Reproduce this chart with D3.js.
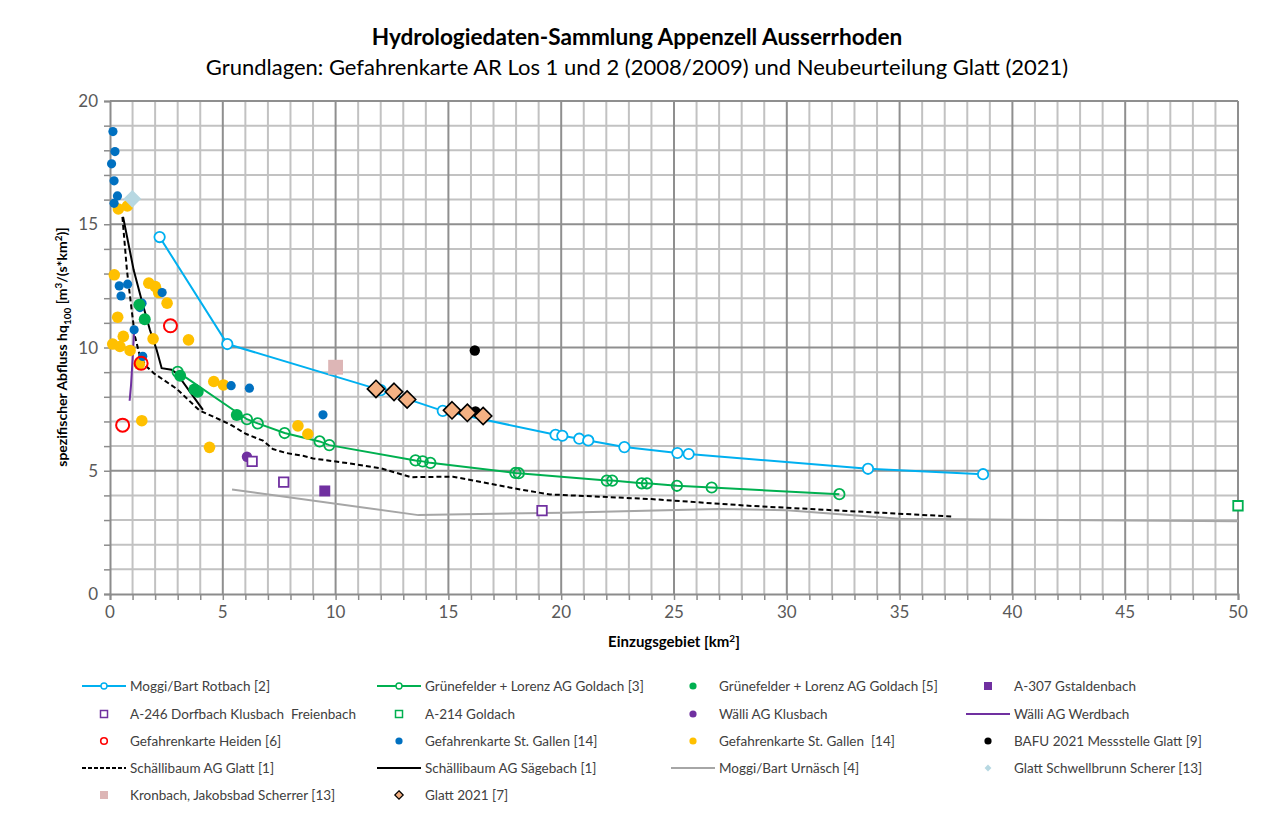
<!DOCTYPE html>
<html>
<head>
<meta charset="utf-8">
<style>
  body { margin: 0; background-color: white; }
  svg { font-family: 'Lato', sans-serif; }
  .minor line { stroke: #c2c2c2; stroke-width: 2px; }
  .major line { stroke: #8f8f8f; stroke-width: 2px; }
  .tick-label { fill: #595959; font-size: 17px; }
  .legend text { fill: #404040; font-size: 13.5px; }
</style>
</head>
<body>

<!-- Load d3.js -->
<script src="https://d3js.org/d3.v7.min.js"></script>

<div id="my_dataviz"></div>

<script>

// ---- data ----
var xTicks = [0, 5, 10, 15, 20, 25, 30, 35, 40, 45, 50];
var yTicks = [0, 5, 10, 15, 20];

// Moggi/Bart Rotbach [2]
var rotbachX = [2.2, 5.2, 12.0, 14.75, 19.75, 20.05, 20.8, 21.2, 22.8, 25.15, 25.65, 33.6, 38.7];
var rotbachY = [14.48, 10.14, 8.27, 7.43, 6.46, 6.42, 6.3, 6.23, 5.96, 5.72, 5.68, 5.08, 4.86];

// Grünefelder + Lorenz AG Goldach [3]
var goldach3X = [3.0, 6.07, 6.55, 7.74, 9.29, 9.72, 13.54, 13.86, 14.2, 17.97, 18.12, 22.02, 22.26, 23.57, 23.8, 25.13, 26.67, 32.33];
var goldach3Y = [9.01, 7.09, 6.92, 6.53, 6.19, 6.04, 5.42, 5.38, 5.32, 4.91, 4.9, 4.6, 4.6, 4.49, 4.49, 4.39, 4.32, 4.05];

// Grünefelder + Lorenz AG Goldach [5]
var goldach5X = [1.3, 1.54, 3.11, 3.74, 3.89, 5.62];
var goldach5Y = [11.73, 11.15, 8.85, 8.3, 8.2, 7.26];

// A-307 Gstaldenbach
var gstaldenX = [9.52];
var gstaldenY = [4.18];

// A-246 Dorfbach Klusbach Freienbach
var dorfbachX = [6.3, 7.7, 19.15];
var dorfbachY = [5.38, 4.54, 3.38];

// A-214 Goldach
var a214X = [50];
var a214Y = [3.58];

// Wälli AG Klusbach
var klusbachX = [6.07];
var klusbachY = [5.57];

// Wälli AG Werdbach
var werdbachX = [0.87, 0.93, 1.0, 1.07];
var werdbachY = [7.84, 8.45, 9.5, 10.68];

// Gefahrenkarte Heiden [6]
var heidenX = [2.68, 1.38, 0.56];
var heidenY = [10.88, 9.36, 6.85];

// Gefahrenkarte St. Gallen [14] (blue)
var sgBlueX = [0.13, 0.22, 0.07, 0.18, 0.33, 0.18, 0.41, 0.78, 0.49, 2.31, 1.42, 1.33, 1.07, 1.45, 5.37, 6.18, 9.44];
var sgBlueY = [18.76, 17.95, 17.45, 16.76, 16.15, 15.85, 12.5, 12.57, 12.09, 12.23, 11.8, 11.62, 10.72, 9.64, 8.45, 8.35, 7.27];

// Gefahrenkarte St. Gallen [14] (yellow)
var sgYellowX = [0.37, 0.77, 0.19, 1.72, 2.01, 2.16, 2.53, 0.34, 0.59, 0.12, 0.44, 0.89, 1.91, 3.48, 1.3, 4.6, 5.03, 8.33, 8.77, 4.41, 1.41];
var sgYellowY = [15.62, 15.74, 12.95, 12.61, 12.47, 12.23, 11.8, 11.23, 10.45, 10.14, 10.04, 9.88, 10.35, 10.31, 9.32, 8.62, 8.48, 6.82, 6.49, 5.95, 7.03];

// BAFU 2021 Messstelle Glatt [9]
var bafuX = [16.17, 16.2];
var bafuY = [9.88, 7.41];

// Schällibaum AG Glatt [1]
var glatt1X = [0.55, 0.75, 0.96, 1.11, 1.33, 1.63, 1.95, 2.96, 3.96, 5.3, 6.04, 6.78, 7.22, 7.81, 8.55, 9.0, 10.6, 12.0, 13.35, 15.2, 18.3, 19.5, 24.0, 28.3, 37.4];
var glatt1Y = [15.3, 13.14, 11.52, 10.44, 9.63, 9.22, 8.95, 8.32, 7.45, 6.89, 6.49, 6.22, 5.88, 5.72, 5.61, 5.5, 5.3, 5.1, 4.74, 4.76, 4.22, 4.04, 3.85, 3.58, 3.14];

// Schällibaum AG Sägebach [1]
var saegeX = [0.58, 1.05, 1.4, 1.77, 2.07, 2.29, 2.73, 2.96, 4.12];
var saegeY = [15.3, 13.14, 11.93, 10.71, 9.9, 9.16, 9.1, 8.95, 7.47];

// Moggi/Bart Urnäsch [4]
var urnaeschX = [5.41, 13.67, 20.0, 27.0, 30.0, 35.0, 50.0];
var urnaeschY = [4.24, 3.2, 3.3, 3.45, 3.4, 3.05, 2.95];

// Glatt Schwellbrunn Scherer [13]
var schwellX = [0.99];
var schwellY = [16.03];

// Kronbach, Jakobsbad Scherrer [13]
var kronbachX = [10.0];
var kronbachY = [9.2];

// Glatt 2021 [7]
var glatt2021X = [11.79, 12.59, 13.17, 15.16, 15.84, 16.54];
var glatt2021Y = [8.32, 8.2, 7.89, 7.45, 7.35, 7.22];

function pts(xs, ys) { return xs.map(function(v, i) { return {x: v, y: ys[i]}; }); }

// ---- layout ----
var W = 1272, H = 814;
var margin = {top: 101, left: 110},
    width = 1128,
    height = 493;

var svg = d3.select("#my_dataviz")
  .append("svg")
    .attr("width", W)
    .attr("height", H);

var x = d3.scaleLinear().domain([0, 50]).range([0, width]);
var y = d3.scaleLinear().domain([0, 20]).range([height, 0]);

var g = svg.append("g")
    .attr("transform", "translate(" + margin.left + "," + margin.top + ")");

// titles
svg.append("text")
    .attr("x", 637).attr("y", 45)
    .attr("text-anchor", "middle")
    .style("font-size", "22.6px").style("font-weight", "bold").style("fill", "#000")
    .text("Hydrologiedaten-Sammlung Appenzell Ausserrhoden");
svg.append("text")
    .attr("x", 637).attr("y", 75)
    .attr("text-anchor", "middle")
    .style("font-size", "22px").style("fill", "#000")
    .text("Grundlagen: Gefahrenkarte AR Los 1 und 2 (2008/2009) und Neubeurteilung Glatt (2021)");

// grid: minor every 1, major every 5
var minorX = d3.range(0, 51).filter(function(d) { return d % 5 !== 0; });
var minorY = d3.range(0, 21).filter(function(d) { return d % 5 !== 0; });

var minor = g.append("g").attr("class", "minor");
minor.selectAll(".vx").data(minorX).enter().append("line")
    .attr("x1", function(d) { return x(d); }).attr("x2", function(d) { return x(d); })
    .attr("y1", 0).attr("y2", height);
minor.selectAll(".hy").data(minorY).enter().append("line")
    .attr("y1", function(d) { return y(d); }).attr("y2", function(d) { return y(d); })
    .attr("x1", 0).attr("x2", width);

var major = g.append("g").attr("class", "major");
major.selectAll(".vx").data(xTicks.slice(1)).enter().append("line")
    .attr("x1", function(d) { return x(d); }).attr("x2", function(d) { return x(d); })
    .attr("y1", 0).attr("y2", height);
major.selectAll(".hy").data(yTicks.slice(1)).enter().append("line")
    .attr("y1", function(d) { return y(d); }).attr("y2", function(d) { return y(d); })
    .attr("x1", 0).attr("x2", width);

// axes
var xAxis = g.append("g")
    .attr("transform", "translate(0," + height + ")")
    .call(d3.axisBottom(x).tickValues(d3.range(0, 51)).tickSize(6).tickFormat(""));
var yAxis = g.append("g")
    .call(d3.axisLeft(y).tickValues(d3.range(0, 21)).tickSize(6).tickFormat(""));
[xAxis, yAxis].forEach(function(a) {
  a.select(".domain").attr("stroke", "#8c8c8c").attr("stroke-width", 2);
  a.selectAll(".tick line").attr("stroke", "#8c8c8c").attr("stroke-width", 1.5);
});

g.selectAll(".xlab").data(xTicks).enter().append("text")
    .attr("class", "tick-label")
    .attr("x", function(d) { return x(d); })
    .attr("y", height + 24)
    .attr("text-anchor", "middle")
    .text(function(d) { return d; });
g.selectAll(".ylab").data(yTicks).enter().append("text")
    .attr("class", "tick-label")
    .attr("x", -12)
    .attr("y", function(d) { return y(d) + 6; })
    .attr("text-anchor", "end")
    .text(function(d) { return d; });

// axis titles (centred by measuring, since tspans shift the anchor)
var xTitle = svg.append("text")
    .attr("y", 647)
    .style("font-size", "15px").style("font-weight", "bold").style("fill", "#000")
    .html("Einzugsgebiet [km<tspan dy='-5' font-size='10px'>2</tspan><tspan dy='5'>]</tspan>");
xTitle.attr("x", 674 - xTitle.node().getComputedTextLength() / 2);

var yTitle = svg.append("text")
    .style("font-size", "14px").style("font-weight", "bold").style("fill", "#000")
    .html("spezifischer Abfluss hq<tspan dy='4' font-size='10px'>100</tspan><tspan dy='-4'> [m</tspan><tspan dy='-5' font-size='10px'>3</tspan><tspan dy='5'>/(s*km</tspan><tspan dy='-5' font-size='10px'>2</tspan><tspan dy='5'>)]</tspan>");
var yLen = yTitle.node().getComputedTextLength();
yTitle.attr("x", -yLen / 2).attr("transform", "translate(67,347) rotate(-90)");

var line = d3.line()
    .x(function(d) { return x(d.x); })
    .y(function(d) { return y(d.y); });

var plot = g.append("g");

function drawLine(data, color, w, dash) {
  plot.append("path")
    .datum(data)
    .attr("fill", "none")
    .attr("stroke", color)
    .attr("stroke-width", w)
    .attr("stroke-dasharray", dash || null)
    .attr("d", line);
}

function drawCircles(data, r, fill, stroke, sw) {
  plot.append("g").selectAll("circle").data(data).enter().append("circle")
    .attr("cx", function(d) { return x(d.x); })
    .attr("cy", function(d) { return y(d.y); })
    .attr("r", r)
    .attr("fill", fill)
    .attr("stroke", stroke || "none")
    .attr("stroke-width", sw || 0);
}

function drawSymbols(data, type, size, fill, stroke, sw) {
  plot.append("g").selectAll("path").data(data).enter().append("path")
    .attr("transform", function(d) { return "translate(" + x(d.x) + "," + y(d.y) + ")"; })
    .attr("d", d3.symbol().type(type).size(size))
    .attr("fill", fill)
    .attr("stroke", stroke || "none")
    .attr("stroke-width", sw || 0);
}

// lines
drawLine(pts(urnaeschX, urnaeschY), "#a6a6a6", 2);
drawLine(pts(glatt1X, glatt1Y), "#000", 2, "5,3");
drawLine(pts(saegeX, saegeY), "#000", 2);
drawLine(pts(werdbachX, werdbachY), "#7030a0", 2);
drawLine(pts(goldach3X, goldach3Y), "#00b050", 2);
drawLine(pts(rotbachX, rotbachY), "#00b0f0", 2);

// markers on lines
drawCircles(pts(goldach3X, goldach3Y), 5.2, "none", "#00b050", 1.8);
drawCircles(pts(rotbachX, rotbachY), 5.2, "white", "#00b0f0", 1.8);

// scatter groups
drawCircles(pts(sgYellowX, sgYellowY), 5.8, "#ffc000");
drawCircles(pts(sgBlueX, sgBlueY), 4.6, "#0070c0");
drawCircles(pts(goldach5X, goldach5Y), 6, "#00b050");
drawCircles(pts(heidenX, heidenY), 6.5, "none", "#ff0000", 2);
drawCircles(pts(klusbachX, klusbachY), 5.2, "#7030a0");
drawCircles(pts(bafuX, bafuY), 5.2, "#000");
drawSymbols(pts(gstaldenX, gstaldenY), d3.symbolSquare, 120, "#7030a0");
drawSymbols(pts(dorfbachX, dorfbachY), d3.symbolSquare, 90, "white", "#7030a0", 1.8);
drawSymbols(pts(a214X, a214Y), d3.symbolSquare, 90, "white", "#00b050", 1.8);
drawSymbols(pts(schwellX, schwellY), d3.symbolDiamond2, 200, "#b7d8e2");
drawSymbols(pts(kronbachX, kronbachY), d3.symbolSquare, 220, "#ddb6b6");
drawSymbols(pts(glatt2021X, glatt2021Y), d3.symbolDiamond2, 190, "#f4b183", "#000", 1.6);

// ---- legend ----
var legendItems = [
  {label: "Moggi/Bart Rotbach [2]", kind: "linecircle", color: "#00b0f0"},
  {label: "Grünefelder + Lorenz AG Goldach [3]", kind: "linecircle", color: "#00b050"},
  {label: "Grünefelder + Lorenz AG Goldach [5]", kind: "dot", color: "#00b050"},
  {label: "A-307 Gstaldenbach", kind: "square", color: "#7030a0"},
  {label: "A-246 Dorfbach Klusbach\u00a0 Freienbach", kind: "opensquare", color: "#7030a0"},
  {label: "A-214 Goldach", kind: "opensquare", color: "#00b050"},
  {label: "Wälli AG Klusbach", kind: "dot", color: "#7030a0"},
  {label: "Wälli AG Werdbach", kind: "line", color: "#7030a0"},
  {label: "Gefahrenkarte Heiden [6]", kind: "opencircle", color: "#ff0000"},
  {label: "Gefahrenkarte St. Gallen [14]", kind: "dot", color: "#0070c0"},
  {label: "Gefahrenkarte St. Gallen\u00a0 [14]", kind: "dot", color: "#ffc000"},
  {label: "BAFU 2021 Messstelle Glatt [9]", kind: "dot", color: "#000"},
  {label: "Schällibaum AG Glatt [1]", kind: "dash", color: "#000"},
  {label: "Schällibaum AG Sägebach [1]", kind: "line", color: "#000"},
  {label: "Moggi/Bart Urnäsch [4]", kind: "line", color: "#a6a6a6"},
  {label: "Glatt Schwellbrunn Scherer [13]", kind: "smalldiamond", color: "#b7d8e2"},
  {label: "Kronbach, Jakobsbad Scherrer [13]", kind: "square", color: "#ddb6b6"},
  {label: "Glatt 2021 [7]", kind: "diamond", color: "#f4b183"}
];
var colX = [82, 377, 671, 966];
var rowY = [686, 714, 741, 768, 795];

var legend = svg.append("g").attr("class", "legend");
legendItems.forEach(function(d, i) {
  var lx = colX[i % 4], ly = rowY[Math.floor(i / 4)];
  var item = legend.append("g").attr("transform", "translate(" + lx + "," + ly + ")");
  var cx = 22;
  if (d.kind === "linecircle" || d.kind === "line" || d.kind === "dash") {
    item.append("line").attr("x1", 0).attr("x2", 44).attr("y1", 0).attr("y2", 0)
      .attr("stroke", d.color).attr("stroke-width", 2)
      .attr("stroke-dasharray", d.kind === "dash" ? "4,2" : null);
  }
  if (d.kind === "linecircle") {
    item.append("circle").attr("cx", cx).attr("r", 3).attr("fill", "white")
      .attr("stroke", d.color).attr("stroke-width", 1.4);
  } else if (d.kind === "dot") {
    item.append("circle").attr("cx", cx).attr("r", 3.6).attr("fill", d.color);
  } else if (d.kind === "opencircle") {
    item.append("circle").attr("cx", cx).attr("r", 3.3).attr("fill", "none")
      .attr("stroke", d.color).attr("stroke-width", 1.6);
  } else if (d.kind === "square") {
    item.append("rect").attr("x", cx - 4).attr("y", -4).attr("width", 8).attr("height", 8).attr("fill", d.color);
  } else if (d.kind === "opensquare") {
    item.append("rect").attr("x", cx - 3.5).attr("y", -3.5).attr("width", 7).attr("height", 7)
      .attr("fill", "white").attr("stroke", d.color).attr("stroke-width", 1.5);
  } else if (d.kind === "smalldiamond") {
    item.append("path").attr("transform", "translate(" + cx + ",0)")
      .attr("d", d3.symbol().type(d3.symbolDiamond2).size(30)).attr("fill", d.color);
  } else if (d.kind === "diamond") {
    item.append("path").attr("transform", "translate(" + cx + ",0)")
      .attr("d", d3.symbol().type(d3.symbolDiamond2).size(45)).attr("fill", d.color)
      .attr("stroke", "#000").attr("stroke-width", 1.2);
  }
  item.append("text").attr("x", 48).attr("y", 5).text(d.label);
});

</script>
</body>
</html>
